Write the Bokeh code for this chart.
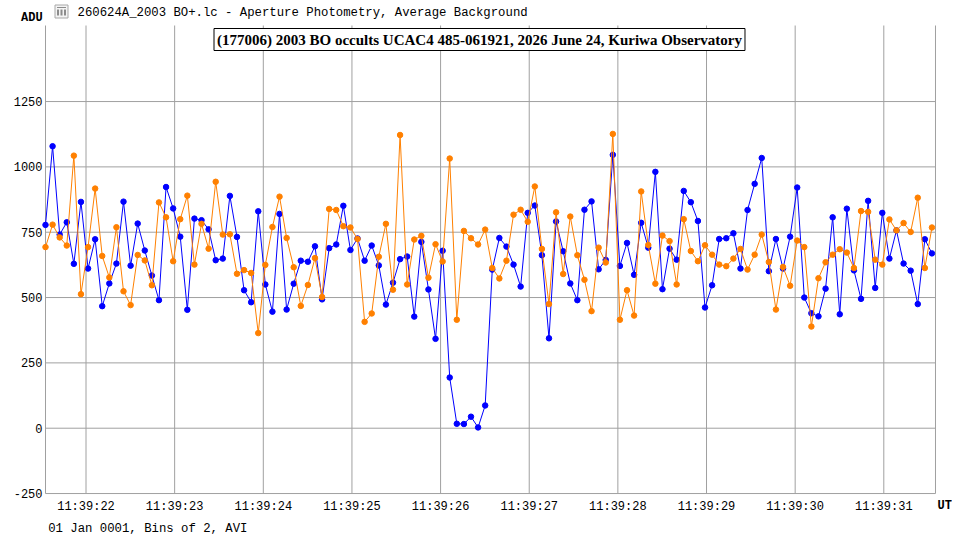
from bokeh.plotting import figure
from bokeh.models import Label, Range1d, ColumnDataSource
from bokeh.core.properties import value
from bokeh.embed import file_html
from bokeh.resources import INLINE

# ---- data (seconds after 11:39:00 UT, ADU) ----
t_first = 21.543
t_step = 0.08
blue_vals = [778, 1079, 741, 788, 629, 866, 611, 723, 467, 554,
             630, 867, 622, 783, 680, 584, 490, 923, 841, 733,
             453, 802, 796, 761, 643, 649, 889, 732, 528, 482,
             830, 550,
             446, 820, 454, 553, 641, 637, 696, 493, 689, 703,
             851, 682, 726, 641, 699, 623, 473, 557, 647, 657,
             427, 713, 531, 342, 679, 194, 17, 16, 44, 3,
             87,
             607, 728, 695, 626, 542, 824, 852, 662, 344, 791,
             677, 554, 490, 836, 868, 608, 644, 1046, 621, 709,
             587,
             786, 691, 981, 532, 687, 645, 908, 865, 793, 462,
             547, 724, 727, 746, 611, 835, 935, 1034, 601, 724,
             611, 733,
             921, 500, 440, 428, 534, 807, 436, 840, 604, 495,
             870, 537, 824, 649, 757, 630, 603, 475, 723, 669]
orange_vals = [693, 779, 730, 699, 1043, 513, 693, 917, 659, 577,
               769, 524, 471, 663, 642, 547, 864, 807, 639, 800,
               890, 626, 782, 687, 943, 741, 742, 591, 605, 594,
               364, 625,
               770, 886, 728, 616, 468, 548, 651, 502, 839, 835,
               773, 768, 724, 407, 439, 656, 782, 530, 1122, 550,
               722, 736, 576, 704, 638, 1032, 415, 755, 727, 703,
               760,
               613, 573, 641, 817, 836, 790, 925, 686, 475, 826,
               590, 810, 662, 568, 448, 691, 634, 1126, 415, 528,
               431,
               906, 701, 553, 737, 716, 550, 800, 678, 639, 700,
               664, 626, 620, 649, 686, 607, 664, 741, 636, 454,
               617, 545,
               718, 693, 389, 574, 635, 664, 685, 672, 613, 831,
               828, 645, 626, 799, 757, 785, 751, 882, 613, 768]
times = [round(t_first + t_step * i, 3) for i in range(len(blue_vals))]

x_ticks = [22, 23, 24, 25, 26, 27, 28, 29, 30, 31]
x_tick_labels = ["11:39:22", "11:39:23", "11:39:24", "11:39:25", "11:39:26",
                 "11:39:27", "11:39:28", "11:39:29", "11:39:30", "11:39:31"]
y_ticks = [-250, 0, 250, 500, 750, 1000, 1250]
y_tick_labels = ["-250", "0", "250", "500", "750", "1000", "1250"]

header_text = "260624A_2003 BO+.lc - Aperture Photometry, Average Background"
title_text = "(177006) 2003 BO occults UCAC4 485-061921, 2026 June 24, Kuriwa Observatory"
footer_text = "01 Jan 0001, Bins of 2, AVI"
y_unit = "ADU"
x_unit = "UT"

# ---- layout: plot area inside a full-canvas frame ----
W, H = 952, 538
PX_X = 88.644          # pixels per second
PX_Y = 0.26133         # pixels per ADU
plot_x0, plot_x1 = 21.543, 31.583
plot_y0, plot_y1 = -250, 1541
LEFT, TOP = 45, 25     # pixel position of the plot area's top-left corner

xr_start = plot_x0 - LEFT / PX_X
xr_end = xr_start + W / PX_X
yr_end = plot_y1 + TOP / PX_Y
yr_start = yr_end - H / PX_Y

GRID = "#A0A0A0"
MONO = "Liberation Mono"

p = figure(width=W, height=H, output_backend="svg", toolbar_location=None,
           x_range=Range1d(xr_start, xr_end), y_range=Range1d(yr_start, yr_end),
           x_axis_type=None, y_axis_type=None, min_border=0)
p.outline_line_color = None
p.background_fill_color = "white"
p.border_fill_color = "white"

# grid and plot-area border
nx, ny = len(x_ticks), len(y_ticks)
p.segment(x0=x_ticks, y0=[plot_y0] * nx, x1=x_ticks, y1=[plot_y1] * nx,
          line_color=GRID, line_width=1)
p.segment(x0=[plot_x0] * ny, y0=y_ticks, x1=[plot_x1] * ny, y1=y_ticks,
          line_color=GRID, line_width=1)
p.segment(x0=[plot_x0, plot_x1], y0=[plot_y0, plot_y0],
          x1=[plot_x0, plot_x1], y1=[plot_y1, plot_y1],
          line_color=GRID, line_width=1)

# tick labels
p.text(x=[plot_x0] * ny, y=y_ticks, text=y_tick_labels, x_offset=-3,
       text_font=value(MONO), text_font_size="12px", text_color="black",
       text_align="right", text_baseline="middle")
p.text(x=x_ticks, y=[plot_y0] * nx, text=x_tick_labels, y_offset=13,
       text_font=value(MONO), text_font_size="12px", text_color="black",
       text_align="center", text_baseline="middle")

# series
src = ColumnDataSource(dict(t=times, blue=blue_vals, orange=orange_vals))
p.line("t", "blue", source=src, line_color="#0000FF", line_width=1)
p.scatter("t", "blue", source=src, marker="circle", size=5.5,
          fill_color="#0000FF", line_color="#0000FF")
p.line("t", "orange", source=src, line_color="#FF8000", line_width=1)
p.scatter("t", "orange", source=src, marker="circle", size=5.5,
          fill_color="#FF8000", line_color="#FF8000")

# small window icon before the header (decoration)
icon_x = plot_x0 + (61 - LEFT) / PX_X
icon_y = plot_y1 + (TOP - 11) / PX_Y
p.rect(x=[icon_x], y=[icon_y], width=13, height=13, width_units="screen",
       height_units="screen", fill_color="#F4F4F4", line_color="#A8A8A8")
bar_dx = [-3.5 / PX_X, 0.0, 3.5 / PX_X]
p.segment(x0=[icon_x + d for d in bar_dx], y0=[icon_y - 4 / PX_Y] * 3,
          x1=[icon_x + d for d in bar_dx], y1=[icon_y + 2 / PX_Y] * 3,
          line_color="#8C8C8C", line_width=2)
p.segment(x0=[icon_x - 4.5 / PX_X], y0=[icon_y + 4 / PX_Y],
          x1=[icon_x + 4.5 / PX_X], y1=[icon_y + 4 / PX_Y],
          line_color="#8C8C8C", line_width=1)

# texts
p.add_layout(Label(x=plot_x0, y=plot_y1, x_offset=32, y_offset=12.5, text=header_text,
                   text_font=MONO, text_font_size="12.3px", text_color="black",
                   text_align="left", text_baseline="middle"))
p.add_layout(Label(x=plot_x0, y=plot_y1, x_offset=-24.5, y_offset=7.5, text=y_unit,
                   text_font=MONO, text_font_size="12px", text_font_style="bold",
                   text_color="black", text_align="left", text_baseline="middle"))
p.add_layout(Label(x=plot_x0, y=plot_y1, x_offset=434, y_offset=-14,
                   text=title_text, text_font="Liberation Serif",
                   text_font_style="bold", text_font_size="15px", text_color="black",
                   text_align="center", text_baseline="middle",
                   border_line_color="black", border_line_width=1,
                   background_fill_color="white", padding=3))
p.add_layout(Label(x=plot_x0, y=plot_y0, x_offset=2.7, y_offset=-35, text=footer_text,
                   text_font=MONO, text_font_size="12.3px", text_color="black",
                   text_align="left", text_baseline="middle"))
p.add_layout(Label(x=plot_x1, y=plot_y0, x_offset=2, y_offset=-12.7, text=x_unit,
                   text_font=MONO, text_font_size="12px", text_font_style="bold",
                   text_color="black", text_align="left", text_baseline="middle"))

open("out.html", "w").write(file_html(p, INLINE))
